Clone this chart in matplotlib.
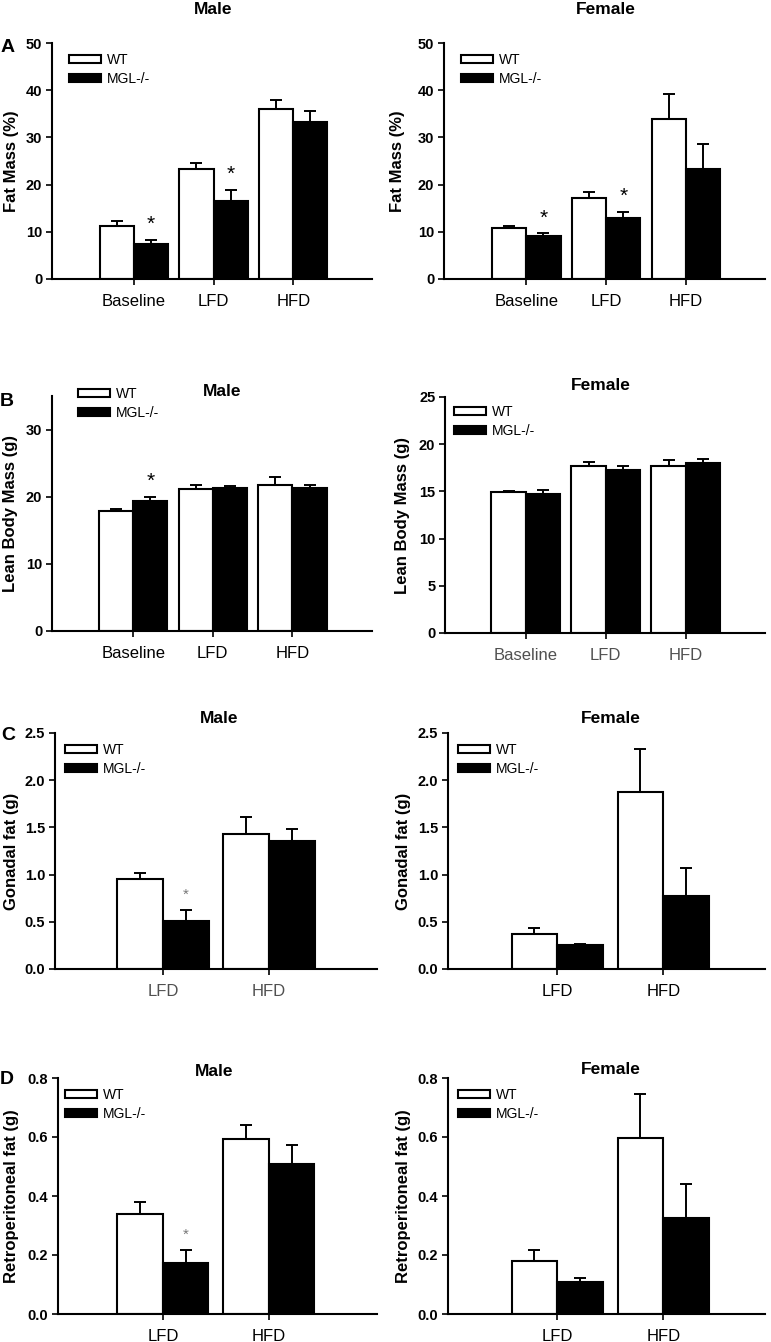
import matplotlib
matplotlib.use('Agg')
import matplotlib.pyplot as plt
import numpy as np

plt.rcParams['font.family'] = ['Liberation Sans', 'DejaVu Sans']

W, H = 771, 1342
DPI = 100

groups3 = ['Baseline', 'LFD', 'HFD']
groups2 = ['LFD', 'HFD']
series_names = ['WT', 'MGL-/-']

# Panel A: Fat mass (%)
fat_male_wt = [11.2, 23.3, 36.1]
fat_male_wt_err = [1.0, 1.3, 1.9]
fat_male_ko = [7.5, 16.5, 33.3]
fat_male_ko_err = [0.8, 2.4, 2.2]
fat_male_sig = [True, True, False]
fat_female_wt = [10.7, 17.1, 34.0]
fat_female_wt_err = [0.5, 1.3, 5.3]
fat_female_ko = [9.2, 12.9, 23.2]
fat_female_ko_err = [0.5, 1.3, 5.3]
fat_female_sig = [True, True, False]

# Panel B: Lean body mass (g)
lean_male_wt = [17.9, 21.2, 21.8]
lean_male_wt_err = [0.2, 0.5, 1.1]
lean_male_ko = [19.4, 21.3, 21.3]
lean_male_ko_err = [0.55, 0.35, 0.5]
lean_male_sig = [True, False, False]
lean_female_wt = [14.9, 17.7, 17.7]
lean_female_wt_err = [0.15, 0.4, 0.6]
lean_female_ko = [14.7, 17.3, 18.0]
lean_female_ko_err = [0.4, 0.4, 0.45]
lean_female_sig = [False, False, False]

# Panel C: Gonadal fat (g)
gon_male_wt = [0.95, 1.43]
gon_male_wt_err = [0.07, 0.18]
gon_male_ko = [0.51, 1.36]
gon_male_ko_err = [0.11, 0.12]
gon_male_sig = [True, False]
gon_female_wt = [0.367, 1.87]
gon_female_wt_err = [0.07, 0.46]
gon_female_ko = [0.254, 0.772]
gon_female_ko_err = [0.016, 0.293]
gon_female_sig = [False, False]

# Panel D: Retroperitoneal fat (g)
ret_male_wt = [0.338, 0.593]
ret_male_wt_err = [0.043, 0.049]
ret_male_ko = [0.172, 0.509]
ret_male_ko_err = [0.045, 0.065]
ret_male_sig = [True, False]
ret_female_wt = [0.180, 0.596]
ret_female_wt_err = [0.037, 0.150]
ret_female_ko = [0.107, 0.325]
ret_female_ko_err = [0.014, 0.116]
ret_female_sig = [False, False]

fig = plt.figure(figsize=(W / DPI, H / DPI), dpi=DPI)


def fx(px):
    return px / W


def fy(py):
    return 1 - py / H


def panel(box, cats, wt, wt_err, ko, ko_err, sig, ylim, yticks, yfmt, ylabel,
          xlim, title, title_xy, leg_xy, ylab_px, tick_color='black',
          star_color='black', star_size=15):
    x0, y0, x1, y1 = box
    ax = fig.add_axes([fx(x0), fy(y1), (x1 - x0) / W, (y1 - y0) / H])
    n = len(cats)
    x = np.arange(n)
    w = 0.43
    ax.bar(x - w / 2, wt, w, color='white', edgecolor='black', linewidth=1.5,
           label=series_names[0], zorder=2)
    ax.bar(x + w / 2, ko, w, color='black', edgecolor='black', linewidth=1.5,
           label=series_names[1], zorder=2)
    zeros = np.zeros(n)
    ax.errorbar(x - w / 2, wt, yerr=[zeros, wt_err], fmt='none', ecolor='black',
                elinewidth=1.4, capsize=4.5, capthick=1.4, zorder=3)
    ax.errorbar(x + w / 2, ko, yerr=[zeros, ko_err], fmt='none', ecolor='black',
                elinewidth=1.4, capsize=4.5, capthick=1.4, zorder=3)
    for i in range(n):
        if sig[i]:
            ax.annotate('*', xy=(x[i] + w / 2, ko[i] + ko_err[i]), xytext=(0, 11),
                        textcoords='offset points', ha='center', va='center',
                        fontsize=star_size, color=star_color)
    ax.set_xlim(*xlim)
    ax.set_ylim(*ylim)
    ax.set_xticks(x)
    ax.set_xticklabels(cats, fontsize=12, color=tick_color)
    ax.set_yticks(yticks)
    ax.set_yticklabels([yfmt.format(v) for v in yticks], fontsize=10.5,
                       fontweight='bold')
    for s in ['top', 'right']:
        ax.spines[s].set_visible(False)
    for s in ['left', 'bottom']:
        ax.spines[s].set_linewidth(1.5)
    ax.tick_params(axis='y', direction='out', length=4, width=1.2, pad=3)
    ax.tick_params(axis='x', direction='out', length=4, width=1.2, pad=7)
    ax.set_ylabel(ylabel, fontsize=12, fontweight='bold', va='center')
    ax.yaxis.set_label_coords((ylab_px - x0) / (x1 - x0), 0.5)
    fig.text(fx(title_xy[0]), fy(title_xy[1]), title, ha='center', va='center',
             fontsize=12.5, fontweight='bold')
    ax.legend(loc='upper left', bbox_to_anchor=(fx(leg_xy[0]), fy(leg_xy[1] - 3)),
              bbox_transform=fig.transFigure, frameon=False, borderpad=0,
              borderaxespad=0, handlelength=2.3, handleheight=0.55,
              handletextpad=0.4, labelspacing=0.35, fontsize=10)
    return ax


# Row A
panel((52, 43, 372, 279), groups3, fat_male_wt, fat_male_wt_err, fat_male_ko,
      fat_male_ko_err, fat_male_sig, (0, 50), [0, 10, 20, 30, 40, 50], '{:.0f}',
      'Fat Mass (%)', (-1.03, 2.99), 'Male', (213, 9), (69, 56), 12)
panel((444, 43, 765, 279), groups3, fat_female_wt, fat_female_wt_err, fat_female_ko,
      fat_female_ko_err, fat_female_sig, (0, 50), [0, 10, 20, 30, 40, 50], '{:.0f}',
      'Fat Mass (%)', (-1.03, 2.99), 'Female', (606, 9), (461, 56), 398)

# Row B
panel((52, 396, 372, 631), groups3, lean_male_wt, lean_male_wt_err, lean_male_ko,
      lean_male_ko_err, lean_male_sig, (0, 35), [0, 10, 20, 30], '{:.0f}',
      'Lean Body Mass (g)', (-1.02, 3.0), 'Male', (222, 392), (78, 390), 11)
panel((445, 397, 765, 633), groups3, lean_female_wt, lean_female_wt_err, lean_female_ko,
      lean_female_ko_err, lean_female_sig, (0, 25), [0, 5, 10, 15, 20, 25], '{:.0f}',
      'Lean Body Mass (g)', (-1.01, 2.99), 'Female', (601, 385), (454, 408), 403,
      tick_color='#505050')

# Row C
panel((55, 733, 377, 969), groups2, gon_male_wt, gon_male_wt_err, gon_male_ko,
      gon_male_ko_err, gon_male_sig, (0, 2.5), [0, 0.5, 1.0, 1.5, 2.0, 2.5], '{:.1f}',
      'Gonadal fat (g)', (-1.02, 2.02), 'Male', (219, 718), (65, 746), 12,
      tick_color='#505050', star_color='#777777', star_size=11)
panel((448, 733, 765, 969), groups2, gon_female_wt, gon_female_wt_err, gon_female_ko,
      gon_female_ko_err, gon_female_sig, (0, 2.5), [0, 0.5, 1.0, 1.5, 2.0, 2.5], '{:.1f}',
      'Gonadal fat (g)', (-1.03, 1.96), 'Female', (611, 718), (458, 746), 403)

# Row D
panel((58, 1078, 377, 1314), groups2, ret_male_wt, ret_male_wt_err, ret_male_ko,
      ret_male_ko_err, ret_male_sig, (0, 0.8), [0, 0.2, 0.4, 0.6, 0.8], '{:.1f}',
      'Retroperitoneal fat (g)', (-0.99, 2.02), 'Male', (214, 1071), (65, 1091), 12,
      star_color='#777777', star_size=11)
panel((448, 1078, 765, 1314), groups2, ret_female_wt, ret_female_wt_err, ret_female_ko,
      ret_female_ko_err, ret_female_sig, (0, 0.8), [0, 0.2, 0.4, 0.6, 0.8], '{:.1f}',
      'Retroperitoneal fat (g)', (-1.03, 1.96), 'Female', (611, 1070), (458, 1091), 403)

# Panel letters
for letter, (lx, ly) in zip(['A', 'B', 'C', 'D'], [(8, 47), (7, 402), (8, 735), (7, 1079)]):
    fig.text(fx(lx), fy(ly), letter, ha='center', va='center', fontsize=14,
             fontweight='bold')

fig.savefig('out.png', dpi=DPI)
